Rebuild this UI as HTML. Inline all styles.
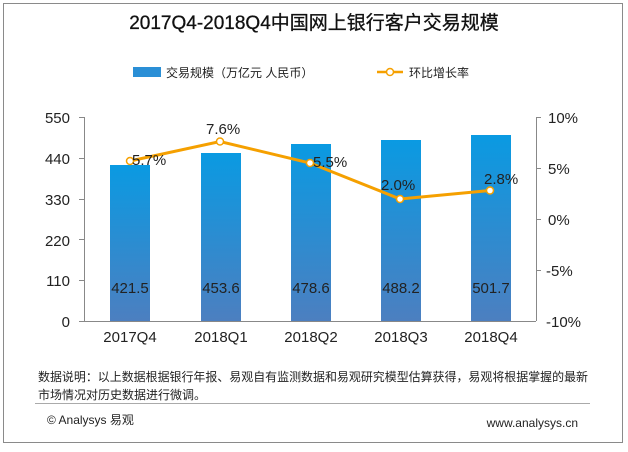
<!DOCTYPE html>
<html><head><meta charset="utf-8"><style>
body{margin:0;background:#fff;}
svg text{font-family:"Liberation Sans","Noto Sans CJK SC",sans-serif;}
</style></head><body>
<svg width="628" height="447" viewBox="0 0 628 447" xmlns="http://www.w3.org/2000/svg">
<defs><linearGradient id="g" x1="0" y1="0" x2="0" y2="1"><stop offset="0" stop-color="#0a9ae2"/><stop offset="1" stop-color="#4c7fc0"/></linearGradient></defs>
<rect x="3.5" y="3.5" width="619" height="439" fill="#fff" stroke="#8a8a8a"/>
<text x="314" y="29" text-anchor="middle" font-size="19" fill="#111" stroke="#111" stroke-width="0.3">2017Q4-2018Q4中国网上银行客户交易规模</text>
<rect x="133" y="67" width="28" height="10" fill="#2a8fd6"/>
<text x="166" y="77" font-size="12" fill="#222">交易规模（万亿元 人民币）</text>
<line x1="377" y1="72" x2="403" y2="72" stroke="#f5a000" stroke-width="2.5"/>
<circle cx="390" cy="72" r="3.5" fill="#fff" stroke="#f5a000" stroke-width="1.5"/>
<text x="409" y="77" font-size="12" fill="#222">环比增长率</text>
<g font-size="15" fill="#222">
<text x="70" y="123" text-anchor="end">550</text>
<text x="70" y="164" text-anchor="end">440</text>
<text x="70" y="205" text-anchor="end">330</text>
<text x="70" y="246" text-anchor="end">220</text>
<text x="70" y="286" text-anchor="end">110</text>
<text x="70" y="327" text-anchor="end">0</text>
<text x="548" y="123">10%</text>
<text x="548" y="174">5%</text>
<text x="548" y="225">0%</text>
<text x="546" y="276">-5%</text>
<text x="546" y="327">-10%</text>
</g>
<g stroke="#888" stroke-width="1">
<line x1="84.5" y1="117" x2="84.5" y2="321"/>
<line x1="536.5" y1="117" x2="536.5" y2="321"/>
<line x1="84" y1="321.5" x2="536" y2="321.5"/>
<line x1="79" y1="117.5" x2="84" y2="117.5"/><line x1="79" y1="158.5" x2="84" y2="158.5"/><line x1="79" y1="199.5" x2="84" y2="199.5"/><line x1="79" y1="239.5" x2="84" y2="239.5"/><line x1="79" y1="280.5" x2="84" y2="280.5"/><line x1="79" y1="321.5" x2="84" y2="321.5"/>
<line x1="536" y1="117.5" x2="541" y2="117.5"/><line x1="536" y1="168.5" x2="541" y2="168.5"/><line x1="536" y1="219.5" x2="541" y2="219.5"/><line x1="536" y1="270.5" x2="541" y2="270.5"/>
</g>
<g fill="url(#g)">
<rect x="110" y="165" width="40" height="156"/>
<rect x="201" y="153" width="40" height="168"/>
<rect x="291" y="144" width="40" height="177"/>
<rect x="381" y="140" width="40" height="181"/>
<rect x="471" y="135" width="40" height="186"/>
</g>
<g font-size="15" fill="#222" text-anchor="middle">
<text x="130" y="293">421.5</text><text x="221" y="293">453.6</text><text x="311" y="293">478.6</text><text x="401" y="293">488.2</text><text x="491" y="293">501.7</text>
<text x="130" y="342">2017Q4</text><text x="221" y="342">2018Q1</text><text x="311" y="342">2018Q2</text><text x="401" y="342">2018Q3</text><text x="491" y="342">2018Q4</text>
</g>
<polyline points="130,161 220,141.5 310,163 400,199 490,190.5" fill="none" stroke="#f5a000" stroke-width="3"/>
<g fill="#fff" stroke="#f5a000" stroke-width="1.5">
<circle cx="130" cy="161" r="3.5"/><circle cx="220" cy="141.5" r="3.5"/><circle cx="310" cy="163" r="3.5"/><circle cx="400" cy="199" r="3.5"/><circle cx="490" cy="190.5" r="3.5"/>
</g>
<g font-size="15" fill="#222">
<text x="132" y="165">5.7%</text>
<text x="206" y="134">7.6%</text>
<text x="313" y="167">5.5%</text>
<text x="381" y="190">2.0%</text>
<text x="484" y="184">2.8%</text>
</g>
<text x="38" y="381" font-size="12" fill="#222" textLength="550" lengthAdjust="spacingAndGlyphs">数据说明：以上数据根据银行年报、易观自有监测数据和易观研究模型估算获得，易观将根据掌握的最新</text>
<text x="38" y="399" font-size="12" fill="#222">市场情况对历史数据进行微调。</text>
<line x1="35" y1="403.5" x2="590" y2="403.5" stroke="#aaa"/>
<text x="47" y="424" font-size="12" fill="#222">© Analysys 易观</text>
<text x="578" y="427" font-size="12" fill="#222" text-anchor="end">www.analysys.cn</text>
</svg>
</body></html>
